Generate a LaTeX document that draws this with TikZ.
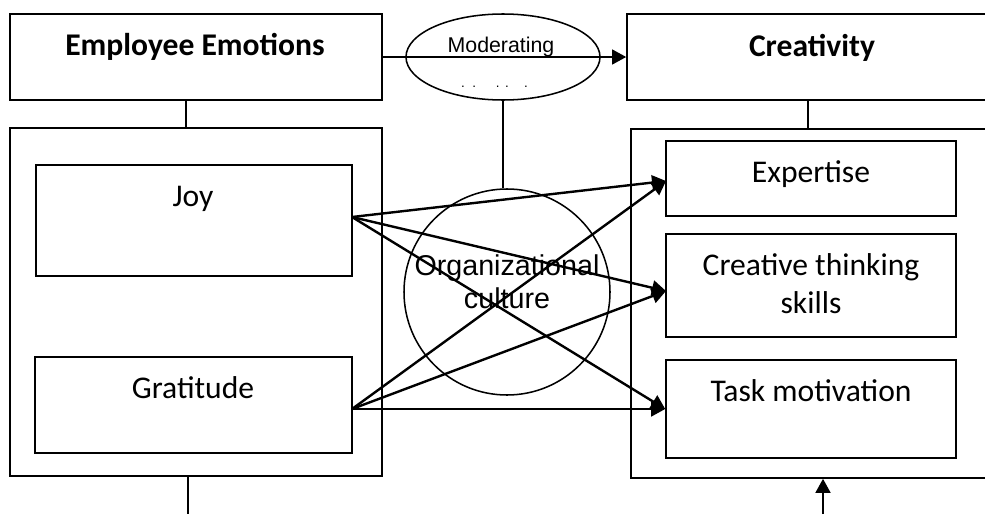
\documentclass[tikz,border=0pt]{standalone}
\usepackage{fontspec}
\setmainfont{Carlito}
\newfontfamily\arialfont{Liberation Sans}
\usetikzlibrary{arrows.meta,shapes.geometric}

\begin{document}
\begin{tikzpicture}[x=0.75pt,y=-0.75pt,
  box/.style={draw,line width=1.15pt,inner sep=0pt},
  lbl/.style={anchor=base,inner sep=0pt,font=\fontsize{23.7}{28.5}\selectfont},
  head/.style={lbl,font=\fontsize{23.7}{28.5}\selectfont\bfseries},
  sans/.style={lbl,font=\arialfont\fontsize{21.5}{25}\selectfont},
  link/.style={line width=1.8pt,-{Triangle[length=10.5pt,width=11pt]}}]
 \useasboundingbox (0,0) rectangle (985,514);
 \clip (0,0) rectangle (985,514);
 % frames
 \node[box,minimum width=279pt,minimum height=64.5pt] (ee) at (196,57) {};
 \node[box,minimum width=277.5pt,minimum height=64.5pt] (cre) at (812,57) {};
 \node[box,minimum width=279pt,minimum height=261pt] (lout) at (196,302) {};
 \node[box,minimum width=271.5pt,minimum height=261.75pt] (rout) at (812,303.5) {};
 \node[box,minimum width=237pt,minimum height=83.25pt] (joy) at (194,220.5) {};
 \node[box,minimum width=237.75pt,minimum height=72pt] (grat) at (193.5,405) {};
 \node[box,minimum width=217.5pt,minimum height=56.25pt] (exp) at (811,178.5) {};
 \node[box,minimum width=217.5pt,minimum height=77.25pt] (crt) at (811,285.5) {};
 \node[box,minimum width=217.5pt,minimum height=73.5pt] (task) at (811,409) {};
 \node[box,ellipse,minimum width=145.5pt,minimum height=64.5pt] (mod) at (503,57) {};
 \node[box,circle,minimum size=154.5pt] (org) at (507,292) {};
 % texts
 \node[head] (ee-t) at (195,55) {Employee Emotions};
 \node[head] (cre-t) at (812,56) {Creativity};
 \node[lbl] (joy-t) at (193,206) {Joy};
 \node[lbl] (grat-t) at (193,398) {Gratitude};
 \node[lbl] (exp-t) at (811,182) {Expertise};
 \node[lbl] (crt-t1) at (811,275) {Creative thinking};
 \node[lbl] (crt-t2) at (811,313) {skills};
 \node[lbl] (task-t) at (811,401) {Task motivation};
 \node[sans,font=\arialfont\fontsize{16}{19}\selectfont] (mod-t) at (501,52) {Moderating};
 \node[sans,font=\arialfont\fontsize{10}{12}\selectfont] (mod-d) at (494.5,87)
  {.\hspace{5.5pt}.\hspace{15pt}.\hspace{4pt}.\hspace{11.5pt}.};
 \node[sans] (org-t1) at (507,275) {Organizational};
 \node[sans] (org-t2) at (507,308) {culture};
 % links
 \coordinate (joy-o) at (352,217);
 \coordinate (grat-o) at (352,409);
 \coordinate (exp-i) at (666,181);
 \coordinate (crt-i) at (666,291);
 \coordinate (lfoot) at (188,514);
 \coordinate (rfoot) at (823,514);
 \draw[line width=1.15pt] ([xshift=-7.5pt]ee.south) -- ([xshift=-7.5pt]lout.north);
 \draw[line width=1.15pt] ([xshift=-3pt]cre.south) -- ([xshift=-3pt]rout.north);
 \draw[line width=1.15pt] (mod.south) -- (mod.south |- org.north);
 \draw[line width=1.15pt] (lfoot |- lout.south) -- (lfoot);
 \draw[link] (rfoot) -- (rfoot |- rout.south);
 \draw[link,line width=1.6pt] (ee.east) -- (cre.west);
 \draw[link] (joy-o) -- (exp-i); \draw[link] (joy-o) -- (crt-i);
 \draw[link] (joy-o) -- (task.west);
 \draw[link] (grat-o) -- (exp-i); \draw[link] (grat-o) -- (crt-i);
 \draw[link] (grat-o) -- (task.west);
\end{tikzpicture}
\end{document}
